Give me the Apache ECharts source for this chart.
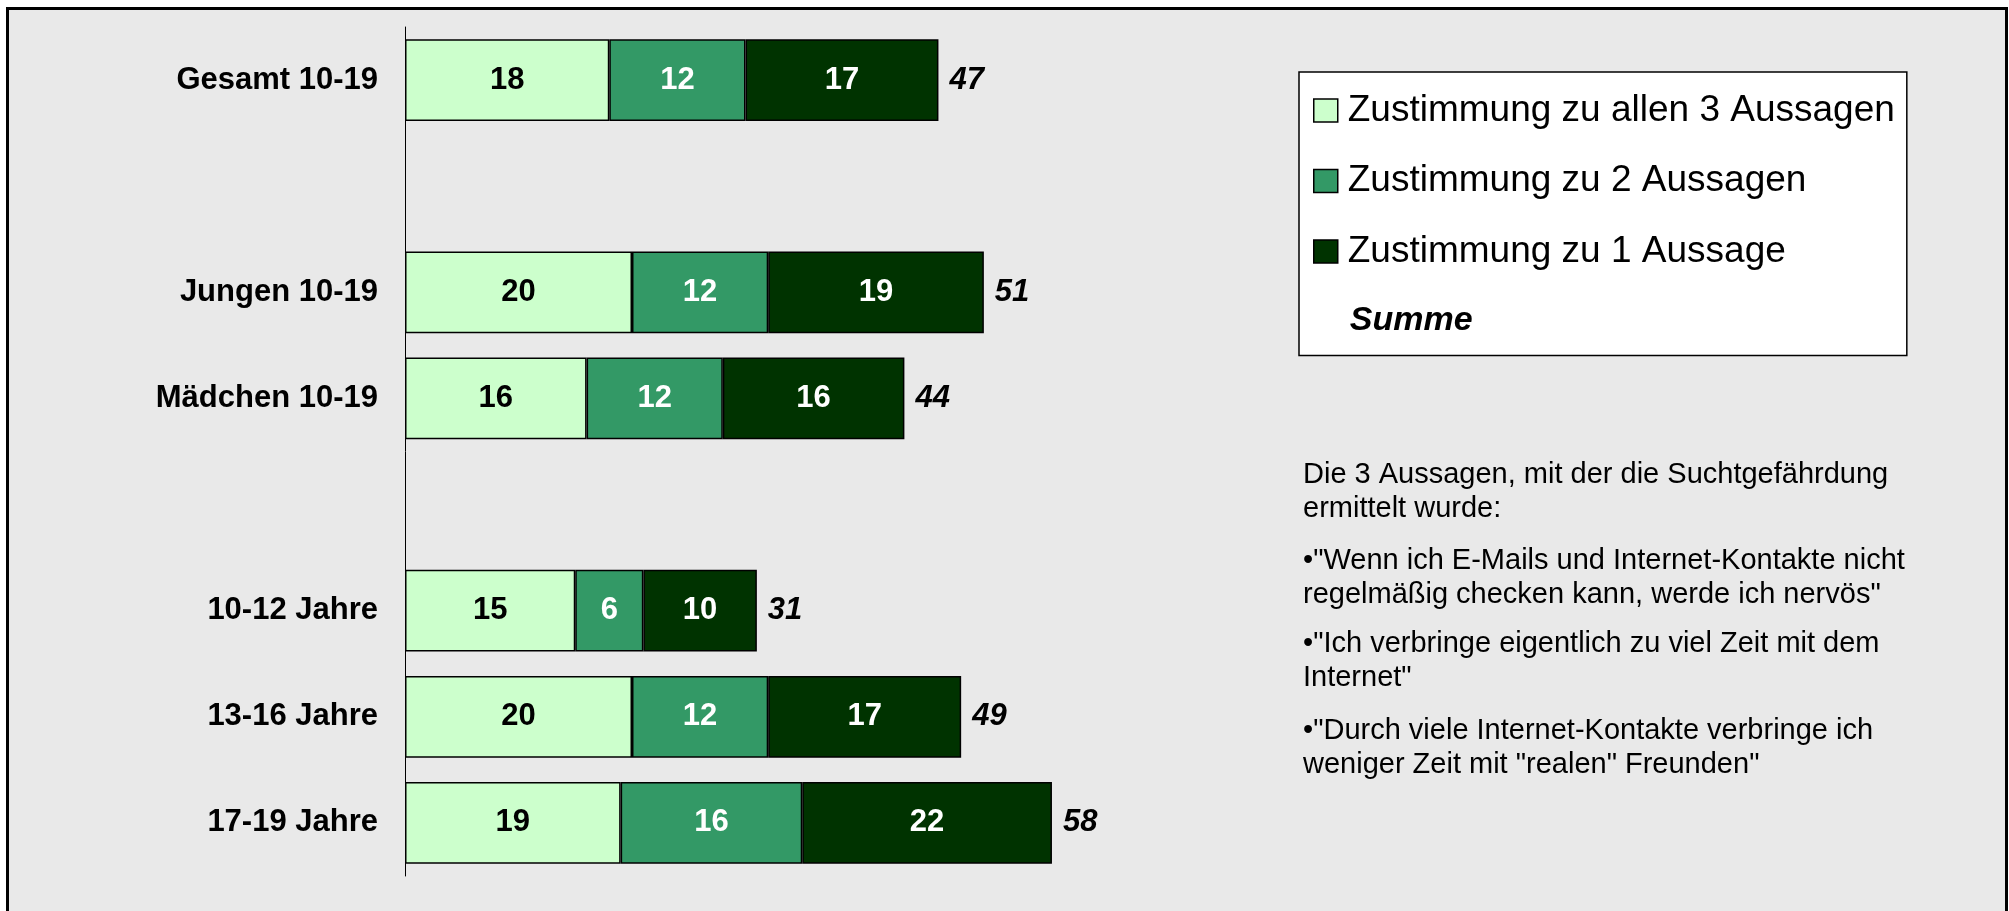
<!DOCTYPE html>
<html>
<head>
<meta charset="utf-8">
<script src="https://cdn.jsdelivr.net/npm/echarts@6/dist/echarts.min.js"></script>
<style>
  html, body { margin: 0; padding: 0; background: #fff; }
  #chart-container { width: 2009px; height: 911px; }
</style>
</head>
<body>
<div id="chart-container"></div>
<script>
// Kategorien (leere Einträge = Abstände zwischen den Gruppen)
const kategorien = ['Gesamt 10-19', ' ', 'Jungen 10-19', 'Mädchen 10-19', '  ', '10-12 Jahre', '13-16 Jahre', '17-19 Jahre'];
const alle3 = [18, null, 20, 16, null, 15, 20, 19];
const zwei = [12, null, 12, 12, null, 6, 12, 16];
const eine = [17, null, 19, 16, null, 10, 17, 22];
const summe = [47, null, 51, 44, null, 31, 49, 58];

const serienNamen = ['Zustimmung zu allen 3 Aussagen', 'Zustimmung zu 2 Aussagen', 'Zustimmung zu 1 Aussage', 'Summe'];

const schrift = '"Liberation Sans", Arial, sans-serif';

let myChart = echarts.init(document.getElementById('chart-container'), null, {
  renderer: 'canvas'
});

function segment(name, werte, farbe, textFarbe) {
  return {
    name: name,
    type: 'bar',
    stack: 'gesamt',
    data: werte,
    barCategoryGap: '23%',
    itemStyle: { color: farbe, borderColor: '#000', borderWidth: 1.5 },
    label: {
      show: true,
      position: 'inside',
      color: textFarbe,
      fontFamily: schrift,
      fontWeight: 'bold',
      fontSize: 31
    }
  };
}

function notiz(top, text) {
  return {
    type: 'text', left: 1303, top: top,
    style: { text: text, font: '29px ' + schrift, fill: '#000', lineHeight: 34 }
  };
}

const opciones = {
  backgroundColor: '#fff',
  animation: false,
  graphic: [
    {
      type: 'rect',
      z: -10,
      silent: true,
      shape: { x: 7.5, y: 8.5, width: 1999, height: 1000 },
      style: { fill: '#e9e9e9', stroke: '#000', lineWidth: 3 }
    },
    notiz(458, 'Die 3 Aussagen, mit der die Suchtgefährdung\nermittelt wurde:'),
    notiz(544, '•"Wenn ich E-Mails und Internet-Kontakte nicht\nregelmäßig checken kann, werde ich nervös"'),
    notiz(627, '•"Ich verbringe eigentlich zu viel Zeit mit dem\nInternet"'),
    notiz(714, '•"Durch viele Internet-Kontakte verbringe ich\nweniger Zeit mit "realen" Freunden"')
  ],
  legend: {
    orient: 'vertical',
    left: 1299,
    top: 72,
    padding: [20, 12, 18, 14],
    backgroundColor: '#fff',
    borderColor: '#000',
    borderWidth: 1.5,
    itemWidth: 24,
    itemHeight: 23,
    itemGap: 33.5,
    selectedMode: false,
    textStyle: { fontFamily: schrift, fontSize: 37, lineHeight: 37, color: '#000', padding: [0, 0, 0, 5] },
    itemStyle: { borderColor: '#000', borderWidth: 1.5 },
    data: [
      { name: serienNamen[0], icon: 'rect' },
      { name: serienNamen[1], icon: 'rect' },
      { name: serienNamen[2], icon: 'rect' },
      {
        name: serienNamen[3],
        icon: 'rect',
        itemStyle: { color: 'rgba(0,0,0,0)', borderWidth: 0 },
        textStyle: { fontSize: 34, lineHeight: 33, fontWeight: 'bold', fontStyle: 'italic', padding: [0, 0, 0, 7] }
      }
    ]
  },
  grid: { left: 405, right: 469, top: 27, bottom: 35, containLabel: false },
  xAxis: {
    type: 'value',
    min: 0,
    max: 100,
    show: false
  },
  yAxis: {
    type: 'category',
    data: kategorien,
    inverse: true,
    axisTick: { show: false },
    axisLine: { lineStyle: { color: '#000', width: 1 } },
    axisLabel: {
      margin: 27,
      color: '#000',
      fontFamily: schrift,
      fontWeight: 'bold',
      fontSize: 31
    }
  },
  series: [
    segment(serienNamen[0], alle3, '#ccffcc', '#000'),
    segment(serienNamen[1], zwei, '#339966', '#fff'),
    segment(serienNamen[2], eine, '#003300', '#fff'),
    {
      // Summe als Beschriftung am Ende des gestapelten Balkens
      name: serienNamen[3],
      type: 'bar',
      stack: 'gesamt',
      data: summe.map(v => (v == null ? null : 0)),
      barCategoryGap: '23%',
      itemStyle: { color: 'rgba(0,0,0,0)' },
      label: {
        show: true,
        position: 'right',
        distance: 11,
        formatter: p => summe[p.dataIndex],
        color: '#000',
        fontFamily: schrift,
        fontWeight: 'bold',
        fontStyle: 'italic',
        fontSize: 31
      }
    }
  ]
};

myChart.setOption(opciones, true);
window.addEventListener('resize', myChart.resize);
</script>
</body>
</html>
